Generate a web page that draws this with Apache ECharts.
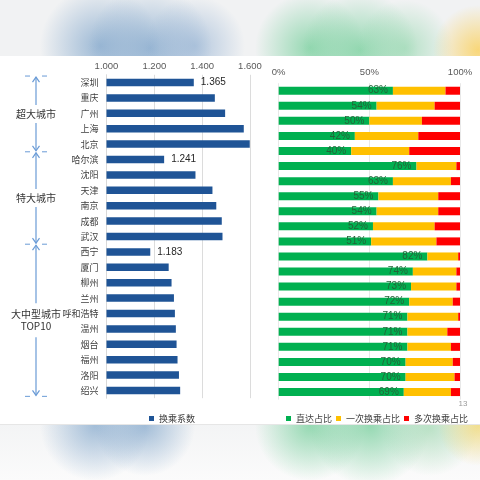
<!DOCTYPE html>
<html><head><meta charset="utf-8">
<script src="https://cdn.jsdelivr.net/npm/echarts@6/dist/echarts.min.js"></script>
<style>html,body{margin:0;padding:0;background:#fff}#c{width:480px;height:480px}</style>
</head><body><div id="c"></div>
<script>
const cities = ['深圳','重庆','广州','上海','北京','哈尔滨','沈阳','天津','南京','成都','武汉','西宁','厦门','柳州','兰州','呼和浩特','温州','烟台','福州','洛阳','绍兴'];
const transferCoef = [1.365,1.453,1.496,1.574,1.599,1.241,1.372,1.443,1.459,1.482,1.485,1.183,1.260,1.272,1.282,1.286,1.290,1.293,1.297,1.303,1.308];
const directShare = [63,54,50,42,40,76,63,55,54,52,51,82,74,73,72,71,71,71,70,70,69];
const oneTransferShare = [29,32,29,35,32,22,32,33,34,34,36,17,24,25,24,28,22,24,26,27,26];
const multiTransferShare = [8,14,21,23,28,2,5,12,12,14,13,1,2,2,4,1,7,5,4,3,5];
const groupNames = ['超大城市','特大城市','大中型城市\nTOP10'];
const groupSizes = [5,6,10];
const coefTicks = [1.0,1.2,1.4,1.6];
const shareTicks = [0,50,100];

const FONT = '"Liberation Sans", Arial, "Noto Sans CJK SC", sans-serif';
const CJK = '"Noto Sans CJK SC", sans-serif';
const chart = echarts.init(document.getElementById('c'));

const labelIdx = [];
let acc = 0;
groupSizes.forEach(s => { labelIdx.push(acc); acc += s; });

chart.setOption({
  backgroundColor: '#ffffff',
  textStyle: { fontFamily: FONT },
  animation: false,
  grid: [
    { left: 106.5, width: 143.5, top: 74.8, height: 323.4 },
    { left: 278.7, width: 181.3, top: 83.2, height: 316.4 }
  ],
  xAxis: [
    { type: 'value', gridIndex: 0, position: 'top', min: coefTicks[0], max: coefTicks[coefTicks.length-1], interval: 0.2,
      axisLine: { show: false }, axisTick: { show: false },
      axisLabel: { margin: 4, fontSize: 9.5, color: '#595959', fontFamily: FONT, formatter: v => v.toFixed(3) },
      splitLine: { lineStyle: { color: '#dcdcdc', width: 1 } } },
    { type: 'value', gridIndex: 1, position: 'top', min: shareTicks[0], max: shareTicks[shareTicks.length-1], interval: 50,
      axisLine: { show: false }, axisTick: { show: false },
      axisLabel: { margin: 6, fontSize: 9.5, color: '#595959', fontFamily: FONT, formatter: '{value}%' },
      splitLine: { lineStyle: { color: '#e8e8e8', width: 1 } } }
  ],
  yAxis: [
    { type: 'category', gridIndex: 0, data: cities, inverse: true,
      axisTick: { show: false }, axisLine: { lineStyle: { color: '#d9d9d9' } },
      axisLabel: { fontSize: 9, color: '#404040', margin: 8, fontFamily: CJK } },
    { type: 'category', gridIndex: 1, data: cities, inverse: true,
      axisTick: { show: false }, axisLine: { show: false }, axisLabel: { show: false } }
  ],
  legend: [
    { data: ['换乘系数'], left: 144, top: 409, width: 100, itemWidth: 5, itemHeight: 5, icon: 'rect', itemGap: 4,
      textStyle: { fontSize: 9, color: '#404040', fontFamily: CJK } },
    { data: ['直达占比','一次换乘占比','多次换乘占比'], left: 281, top: 409, width: 200, itemWidth: 5, itemHeight: 5, icon: 'rect', itemGap: 4,
      textStyle: { fontSize: 9, color: '#404040', fontFamily: CJK } }
  ],
  series: [
    { name: '换乘系数', type: 'bar', xAxisIndex: 0, yAxisIndex: 0, barWidth: 7.5,
      itemStyle: { color: '#1f5496' },
      data: transferCoef.map((v, i) => ({ value: v, label: { show: labelIdx.includes(i) } })),
      label: { position: 'right', distance: 7, fontSize: 10, color: '#262626', fontFamily: FONT, formatter: p => p.value.toFixed(3) } },
    { name: '直达占比', type: 'bar', stack: 'share', xAxisIndex: 1, yAxisIndex: 1, barWidth: 8,
      itemStyle: { color: '#00b050' }, data: directShare,
      label: { show: true, position: 'insideRight', distance: 5, fontSize: 10, color: '#236338', fontFamily: FONT, formatter: '{c}%' } },
    { name: '一次换乘占比', type: 'bar', stack: 'share', xAxisIndex: 1, yAxisIndex: 1, barWidth: 8,
      itemStyle: { color: '#ffc000' }, data: oneTransferShare },
    { name: '多次换乘占比', type: 'bar', stack: 'share', xAxisIndex: 1, yAxisIndex: 1, barWidth: 8,
      itemStyle: { color: '#ff0000' }, data: multiTransferShare }
  ]
});

// ---- decorations ----
const g = [];
function blob(cx, cy, r, rgb, a, z) {
  g.push({ type: 'circle', z: z, silent: true, shape: { cx, cy, r },
    style: { fill: { type: 'radial', x: 0.5, y: 0.5, r: 0.5,
      colorStops: [{ offset: 0, color: 'rgba(' + rgb + ',' + a + ')' }, { offset: 1, color: 'rgba(' + rgb + ',0)' }] } } });
}
g.push({ type: 'rect', z: -30, silent: true, shape: { x: 0, y: 0, width: 480, height: 56 }, style: { fill: '#f1f2f3' } });
g.push({ type: 'rect', z: -30, silent: true, shape: { x: 0, y: 424, width: 480, height: 56 },
  style: { fill: { type: 'linear', x: 0, y: 0, x2: 0, y2: 1, colorStops: [{ offset: 0, color: '#f3f4f5' }, { offset: 1, color: '#fbfbfb' }] } } });
blob(100, 46, 60, '120,160,200', 0.7, -20);
blob(150, 48, 62, '120,160,200', 0.7, -20);
blob(195, 46, 50, '130,165,205', 0.55, -20);
blob(310, 48, 55, '110,205,150', 0.7, -20);
blob(360, 50, 58, '110,205,150', 0.7, -20);
blob(405, 48, 48, '130,210,160', 0.55, -20);
blob(478, 50, 45, '250,210,100', 0.85, -20);
blob(95, 426, 55, '120,160,200', 0.65, -20);
blob(145, 426, 50, '120,160,200', 0.65, -20);
blob(310, 426, 55, '110,205,150', 0.7, -20);
blob(370, 426, 60, '110,205,150', 0.7, -20);
blob(430, 428, 48, '140,210,160', 0.55, -20);
blob(478, 426, 40, '240,215,110', 0.75, -20);
g.push({ type: 'rect', z: -10, silent: true, shape: { x: 0, y: 56, width: 480, height: 368 }, style: { fill: '#ffffff' } });
g.push({ type: 'line', z: -9, silent: true, shape: { x1: 0, y1: 424.5, x2: 480, y2: 424.5 }, style: { stroke: '#e6e6e6', lineWidth: 1 } });
g.push({ type: 'text', z: 10, silent: true, x: 463, y: 404, style: { text: '13', fill: '#9a9a9a', font: '8px ' + FONT, textAlign: 'center', textVerticalAlign: 'middle' } });

const cy = i => chart.convertToPixel({ yAxisIndex: 0 }, i);
const band = cy(1) - cy(0);
const BC = '#6a9bd6';
const LX = 36;
let start = 0;
const bounds = [];
groupSizes.forEach((s, gi) => {
  const first = start, last = start + s - 1;
  const top = gi === 0 ? cy(first) - 0.42 * band : (cy(first - 1) + cy(first)) / 2;
  const bot = gi === groupSizes.length - 1 ? cy(last) + 0.38 * band : (cy(last) + cy(last + 1)) / 2;
  bounds.push([top, bot]);
  start += s;
});
const edgeSet = new Set();
bounds.forEach(([top, bot], gi) => {
  const mid = (top + bot) / 2;
  const lines = groupNames[gi].split('\n').length;
  const half = lines === 1 ? 9 : 17;
  [top, bot].forEach(b => {
    const key = Math.round(b);
    if (!edgeSet.has(key)) {
      edgeSet.add(key);
      g.push({ type: 'line', z: 10, silent: true, shape: { x1: 25, y1: b, x2: 30, y2: b }, style: { stroke: BC, lineWidth: 1 } });
      g.push({ type: 'line', z: 10, silent: true, shape: { x1: 42, y1: b, x2: 47, y2: b }, style: { stroke: BC, lineWidth: 1 } });
    }
  });
  g.push({ type: 'line', z: 10, silent: true, shape: { x1: LX, y1: top + 1, x2: LX, y2: mid - half }, style: { stroke: BC, lineWidth: 1.2 } });
  g.push({ type: 'line', z: 10, silent: true, shape: { x1: LX, y1: mid + half, x2: LX, y2: bot - 1 }, style: { stroke: BC, lineWidth: 1.2 } });
  g.push({ type: 'polyline', z: 10, silent: true, shape: { points: [[LX - 3.5, top + 6], [LX, top + 1], [LX + 3.5, top + 6]] }, style: { stroke: BC, lineWidth: 1.2, fill: null } });
  g.push({ type: 'polyline', z: 10, silent: true, shape: { points: [[LX - 3.5, bot - 6], [LX, bot - 1], [LX + 3.5, bot - 6]] }, style: { stroke: BC, lineWidth: 1.2, fill: null } });
  g.push({ type: 'text', z: 10, silent: true, x: LX, y: mid,
    style: { text: groupNames[gi], fill: '#333333', font: '10px ' + CJK, textAlign: 'center', textVerticalAlign: 'middle', lineHeight: 12 } });
});

chart.setOption({ graphic: g });
</script></body></html>
